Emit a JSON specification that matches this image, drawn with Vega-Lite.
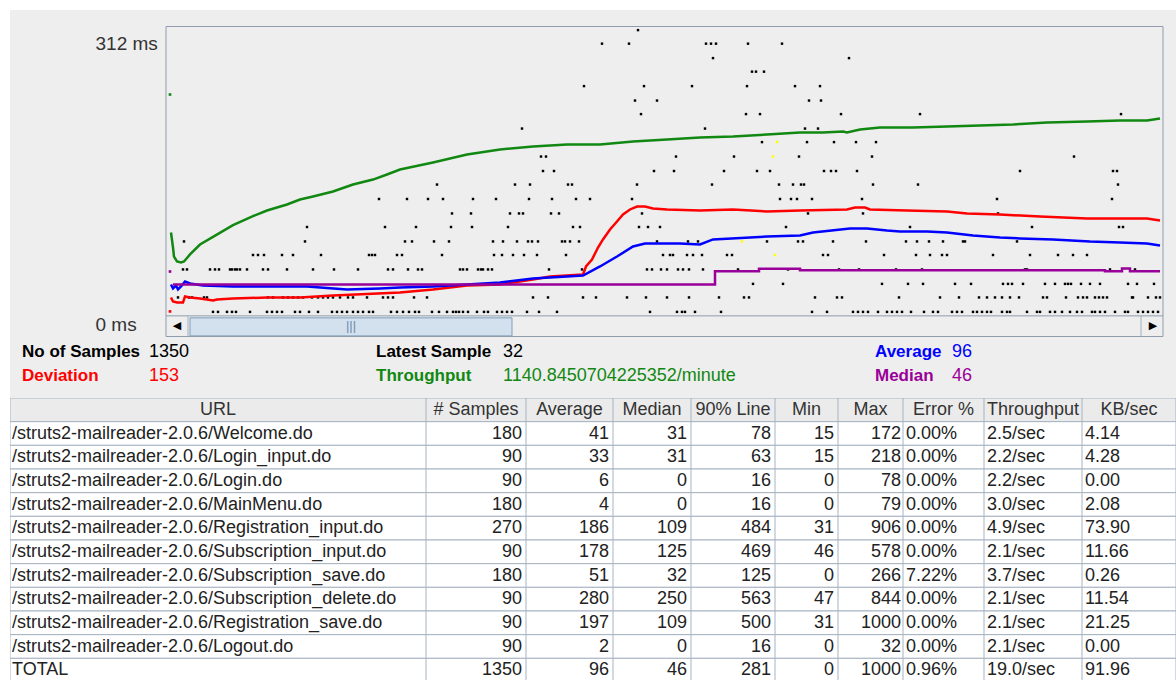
{
  "$schema": "https://vega.github.io/schema/vega-lite/v6.json",
  "background": "#FFFFFF",
  "padding": {"left": 10, "top": 10, "right": 0, "bottom": 0},
  "config": {"font": "Liberation Sans", "view": {"stroke": null}},
  "resolve": {"scale": {"color": "independent"}},
  "datasets": {
    "samples": [
      {"n":472,"ms":312},
      {"n":436,"ms":297},{"n":463,"ms":297},{"n":540,"ms":297},{"n":545,"ms":297},{"n":550,"ms":297},{"n":582,"ms":297},{"n":616,"ms":297},
      {"n":547,"ms":281},{"n":683,"ms":281},
      {"n":586,"ms":266},{"n":590,"ms":266},{"n":598,"ms":266},
      {"n":418,"ms":250},{"n":478,"ms":250},{"n":526,"ms":250},{"n":581,"ms":250},{"n":629,"ms":250},{"n":654,"ms":250},
      {"n":469,"ms":234},{"n":491,"ms":234},{"n":643,"ms":234},{"n":655,"ms":234},
      {"n":475,"ms":219},{"n":580,"ms":219},{"n":594,"ms":219},{"n":675,"ms":219},{"n":754,"ms":219},{"n":955,"ms":219},
      {"n":356,"ms":203},{"n":539,"ms":203},{"n":639,"ms":203},{"n":652,"ms":203},
      {"n":596,"ms":188},{"n":641,"ms":188},{"n":668,"ms":188},{"n":690,"ms":188},{"n":710,"ms":188},
      {"n":375,"ms":172},{"n":380,"ms":172},{"n":510,"ms":172},{"n":568,"ms":172},{"n":633,"ms":172},{"n":706,"ms":172},{"n":908,"ms":172},
      {"n":377,"ms":156},{"n":388,"ms":156},{"n":488,"ms":156},{"n":508,"ms":156},{"n":558,"ms":156},{"n":591,"ms":156},{"n":604,"ms":156},{"n":658,"ms":156},{"n":665,"ms":156},{"n":670,"ms":156},{"n":691,"ms":156},{"n":854,"ms":156},{"n":947,"ms":156},{"n":951,"ms":156},
      {"n":271,"ms":141},{"n":349,"ms":141},{"n":364,"ms":141},{"n":402,"ms":141},{"n":406,"ms":141},{"n":471,"ms":141},{"n":546,"ms":141},{"n":613,"ms":141},{"n":627,"ms":141},{"n":635,"ms":141},{"n":638,"ms":141},{"n":707,"ms":141},{"n":752,"ms":141},{"n":952,"ms":141},
      {"n":213,"ms":125},{"n":241,"ms":125},{"n":262,"ms":125},{"n":277,"ms":125},{"n":307,"ms":125},{"n":330,"ms":125},{"n":363,"ms":125},{"n":386,"ms":125},{"n":410,"ms":125},{"n":424,"ms":125},{"n":466,"ms":125},{"n":614,"ms":125},{"n":625,"ms":125},{"n":631,"ms":125},{"n":646,"ms":125},{"n":696,"ms":125},{"n":831,"ms":125},{"n":946,"ms":125},
      {"n":286,"ms":109},{"n":305,"ms":109},{"n":344,"ms":109},{"n":353,"ms":109},{"n":357,"ms":109},{"n":385,"ms":109},{"n":393,"ms":109},{"n":476,"ms":109},{"n":642,"ms":109},{"n":697,"ms":109},{"n":832,"ms":109},
      {"n":141,"ms":94},{"n":219,"ms":94},{"n":250,"ms":94},{"n":285,"ms":94},{"n":306,"ms":94},{"n":342,"ms":94},{"n":407,"ms":94},{"n":414,"ms":94},{"n":473,"ms":94},{"n":482,"ms":94},{"n":494,"ms":94},{"n":620,"ms":94},{"n":744,"ms":94},{"n":866,"ms":94},{"n":953,"ms":94},{"n":957,"ms":94},
      {"n":18,"ms":78},{"n":139,"ms":78},{"n":239,"ms":78},{"n":246,"ms":78},{"n":268,"ms":78},{"n":283,"ms":78},{"n":327,"ms":78},{"n":337,"ms":78},{"n":351,"ms":78},{"n":362,"ms":78},{"n":366,"ms":78},{"n":372,"ms":78},{"n":396,"ms":78},{"n":399,"ms":78},{"n":404,"ms":78},{"n":413,"ms":78},{"n":491,"ms":78},{"n":522,"ms":78},{"n":532,"ms":78},{"n":601,"ms":78},{"n":632,"ms":78},{"n":637,"ms":78},{"n":667,"ms":78},{"n":700,"ms":78},{"n":740,"ms":78},{"n":751,"ms":78},{"n":763,"ms":78},{"n":777,"ms":78},{"n":797,"ms":78},{"n":799,"ms":78},{"n":851,"ms":78},
      {"n":87,"ms":63},{"n":92,"ms":63},{"n":98,"ms":63},{"n":116,"ms":63},{"n":127,"ms":63},{"n":155,"ms":63},{"n":203,"ms":63},{"n":206,"ms":63},{"n":209,"ms":63},{"n":231,"ms":63},{"n":236,"ms":63},{"n":276,"ms":63},{"n":328,"ms":63},{"n":336,"ms":63},{"n":347,"ms":63},{"n":358,"ms":63},{"n":371,"ms":63},{"n":400,"ms":63},{"n":497,"ms":63},{"n":504,"ms":63},{"n":507,"ms":63},{"n":521,"ms":63},{"n":527,"ms":63},{"n":536,"ms":63},{"n":561,"ms":63},{"n":566,"ms":63},{"n":657,"ms":63},{"n":662,"ms":63},{"n":718,"ms":63},{"n":750,"ms":63},{"n":764,"ms":63},{"n":776,"ms":63},{"n":781,"ms":63},{"n":827,"ms":63},{"n":864,"ms":63},{"n":892,"ms":63},{"n":907,"ms":63},{"n":921,"ms":63},
      {"n":17,"ms":47},{"n":21,"ms":47},{"n":44,"ms":47},{"n":49,"ms":47},{"n":53,"ms":47},{"n":64,"ms":47},{"n":66,"ms":47},{"n":69,"ms":47},{"n":71,"ms":47},{"n":74,"ms":47},{"n":81,"ms":47},{"n":97,"ms":47},{"n":102,"ms":47},{"n":121,"ms":47},{"n":147,"ms":47},{"n":168,"ms":47},{"n":192,"ms":47},{"n":222,"ms":47},{"n":227,"ms":47},{"n":242,"ms":47},{"n":252,"ms":47},{"n":256,"ms":47},{"n":294,"ms":47},{"n":297,"ms":47},{"n":301,"ms":47},{"n":312,"ms":47},{"n":315,"ms":47},{"n":317,"ms":47},{"n":322,"ms":47},{"n":326,"ms":47},{"n":383,"ms":47},{"n":416,"ms":47},{"n":481,"ms":47},{"n":486,"ms":47},{"n":495,"ms":47},{"n":501,"ms":47},{"n":512,"ms":47},{"n":517,"ms":47},{"n":523,"ms":47},{"n":537,"ms":47},{"n":572,"ms":47},{"n":622,"ms":47},{"n":673,"ms":47},{"n":693,"ms":47},{"n":730,"ms":47},{"n":756,"ms":47},{"n":859,"ms":47},{"n":861,"ms":47},{"n":944,"ms":47},{"n":969,"ms":47},
      {"n":587,"ms":31},{"n":617,"ms":31},{"n":716,"ms":31},{"n":742,"ms":31},{"n":757,"ms":31},{"n":789,"ms":31},{"n":805,"ms":31},{"n":837,"ms":31},{"n":842,"ms":31},{"n":846,"ms":31},{"n":857,"ms":31},{"n":879,"ms":31},{"n":889,"ms":31},{"n":899,"ms":31},{"n":902,"ms":31},{"n":905,"ms":31},{"n":915,"ms":31},{"n":924,"ms":31},{"n":934,"ms":31},{"n":962,"ms":31},{"n":971,"ms":31},{"n":988,"ms":31},
      {"n":12,"ms":16},{"n":23,"ms":16},{"n":26,"ms":16},{"n":38,"ms":16},{"n":41,"ms":16},{"n":102,"ms":16},{"n":107,"ms":16},{"n":117,"ms":16},{"n":122,"ms":16},{"n":127,"ms":16},{"n":132,"ms":16},{"n":137,"ms":16},{"n":146,"ms":16},{"n":152,"ms":16},{"n":157,"ms":16},{"n":162,"ms":16},{"n":167,"ms":16},{"n":174,"ms":16},{"n":182,"ms":16},{"n":187,"ms":16},{"n":201,"ms":16},{"n":217,"ms":16},{"n":222,"ms":16},{"n":227,"ms":16},{"n":248,"ms":16},{"n":261,"ms":16},{"n":367,"ms":16},{"n":382,"ms":16},{"n":417,"ms":16},{"n":430,"ms":16},{"n":461,"ms":16},{"n":480,"ms":16},{"n":501,"ms":16},{"n":523,"ms":16},{"n":553,"ms":16},{"n":578,"ms":16},{"n":583,"ms":16},{"n":649,"ms":16},{"n":671,"ms":16},{"n":676,"ms":16},{"n":733,"ms":16},{"n":774,"ms":16},{"n":793,"ms":16},{"n":813,"ms":16},{"n":821,"ms":16},{"n":829,"ms":16},{"n":836,"ms":16},{"n":844,"ms":16},{"n":853,"ms":16},{"n":877,"ms":16},{"n":881,"ms":16},{"n":900,"ms":16},{"n":912,"ms":16},{"n":917,"ms":16},{"n":921,"ms":16},{"n":929,"ms":16},{"n":933,"ms":16},{"n":937,"ms":16},{"n":941,"ms":16},{"n":966,"ms":16},{"n":967,"ms":16},{"n":982,"ms":16},{"n":990,"ms":16},{"n":994,"ms":16},
      {"n":47,"ms":0},{"n":52,"ms":0},{"n":61,"ms":0},{"n":66,"ms":0},{"n":70,"ms":0},{"n":84,"ms":0},{"n":101,"ms":0},{"n":106,"ms":0},{"n":111,"ms":0},{"n":116,"ms":0},{"n":129,"ms":0},{"n":134,"ms":0},{"n":143,"ms":0},{"n":152,"ms":0},{"n":166,"ms":0},{"n":171,"ms":0},{"n":176,"ms":0},{"n":181,"ms":0},{"n":187,"ms":0},{"n":192,"ms":0},{"n":197,"ms":0},{"n":203,"ms":0},{"n":207,"ms":0},{"n":225,"ms":0},{"n":231,"ms":0},{"n":237,"ms":0},{"n":243,"ms":0},{"n":249,"ms":0},{"n":253,"ms":0},{"n":266,"ms":0},{"n":273,"ms":0},{"n":281,"ms":0},{"n":287,"ms":0},{"n":290,"ms":0},{"n":293,"ms":0},{"n":297,"ms":0},{"n":302,"ms":0},{"n":311,"ms":0},{"n":318,"ms":0},{"n":322,"ms":0},{"n":331,"ms":0},{"n":336,"ms":0},{"n":341,"ms":0},{"n":346,"ms":0},{"n":361,"ms":0},{"n":373,"ms":0},{"n":391,"ms":0},{"n":484,"ms":0},{"n":511,"ms":0},{"n":516,"ms":0},{"n":519,"ms":0},{"n":529,"ms":0},{"n":555,"ms":0},{"n":646,"ms":0},{"n":661,"ms":0},{"n":687,"ms":0},{"n":692,"ms":0},{"n":697,"ms":0},{"n":702,"ms":0},{"n":712,"ms":0},{"n":721,"ms":0},{"n":726,"ms":0},{"n":731,"ms":0},{"n":736,"ms":0},{"n":745,"ms":0},{"n":758,"ms":0},{"n":767,"ms":0},{"n":772,"ms":0},{"n":786,"ms":0},{"n":791,"ms":0},{"n":796,"ms":0},{"n":807,"ms":0},{"n":811,"ms":0},{"n":816,"ms":0},{"n":821,"ms":0},{"n":825,"ms":0},{"n":836,"ms":0},{"n":841,"ms":0},{"n":844,"ms":0},{"n":861,"ms":0},{"n":871,"ms":0},{"n":874,"ms":0},{"n":884,"ms":0},{"n":889,"ms":0},{"n":896,"ms":0},{"n":904,"ms":0},{"n":911,"ms":0},{"n":916,"ms":0},{"n":926,"ms":0},{"n":929,"ms":0},{"n":934,"ms":0},{"n":939,"ms":0},{"n":949,"ms":0},{"n":959,"ms":0},{"n":962,"ms":0},{"n":972,"ms":0},{"n":977,"ms":0},{"n":982,"ms":0},{"n":987,"ms":0},{"n":992,"ms":0}
    ],
    "trend": [
      {"s":"Throughput","n":5,"ms":87.9},{"s":"Throughput","n":7,"ms":71.3},{"s":"Throughput","n":8,"ms":61.3},{"s":"Throughput","n":11,"ms":55.8},{"s":"Throughput","n":15,"ms":54.7},{"s":"Throughput","n":18,"ms":55.8},{"s":"Throughput","n":24,"ms":63.6},{"s":"Throughput","n":34,"ms":74.6},{"s":"Throughput","n":47,"ms":83.0},{"s":"Throughput","n":67,"ms":96.0},{"s":"Throughput","n":87,"ms":106.0},{"s":"Throughput","n":101,"ms":112.3},{"s":"Throughput","n":121,"ms":118.9},{"s":"Throughput","n":134,"ms":124.4},{"s":"Throughput","n":147,"ms":127.8},{"s":"Throughput","n":167,"ms":133.3},{"s":"Throughput","n":187,"ms":141.0},{"s":"Throughput","n":207,"ms":146.5},{"s":"Throughput","n":221,"ms":152.1},{"s":"Throughput","n":234,"ms":157.6},{"s":"Throughput","n":267,"ms":165.4},{"s":"Throughput","n":301,"ms":174.3},{"s":"Throughput","n":334,"ms":179.8},{"s":"Throughput","n":367,"ms":183.1},{"s":"Throughput","n":401,"ms":185.4},{"s":"Throughput","n":434,"ms":185.4},{"s":"Throughput","n":467,"ms":188.7},{"s":"Throughput","n":501,"ms":190.9},{"s":"Throughput","n":534,"ms":193.1},{"s":"Throughput","n":567,"ms":194.2},{"s":"Throughput","n":601,"ms":196.4},{"s":"Throughput","n":634,"ms":198.6},{"s":"Throughput","n":657,"ms":198.6},{"s":"Throughput","n":677,"ms":199.7},{"s":"Throughput","n":681,"ms":198.6},{"s":"Throughput","n":694,"ms":201.9},{"s":"Throughput","n":714,"ms":204.1},{"s":"Throughput","n":747,"ms":204.1},{"s":"Throughput","n":781,"ms":205.3},{"s":"Throughput","n":814,"ms":206.4},{"s":"Throughput","n":847,"ms":207.5},{"s":"Throughput","n":881,"ms":209.7},{"s":"Throughput","n":921,"ms":210.8},{"s":"Throughput","n":954,"ms":211.9},{"s":"Throughput","n":981,"ms":211.9},{"s":"Throughput","n":994,"ms":214.1},
      {"s":"Deviation","n":5,"ms":15.9},{"s":"Deviation","n":7,"ms":11.5},{"s":"Deviation","n":11,"ms":10.4},{"s":"Deviation","n":17,"ms":10.4},{"s":"Deviation","n":19,"ms":17.1},{"s":"Deviation","n":24,"ms":15.9},{"s":"Deviation","n":34,"ms":14.8},{"s":"Deviation","n":47,"ms":12.6},{"s":"Deviation","n":51,"ms":13.7},{"s":"Deviation","n":67,"ms":14.8},{"s":"Deviation","n":101,"ms":15.9},{"s":"Deviation","n":134,"ms":15.9},{"s":"Deviation","n":167,"ms":18.2},{"s":"Deviation","n":212,"ms":20.4},{"s":"Deviation","n":234,"ms":21.5},{"s":"Deviation","n":267,"ms":24.8},{"s":"Deviation","n":301,"ms":29.2},{"s":"Deviation","n":334,"ms":30.4},{"s":"Deviation","n":347,"ms":32.6},{"s":"Deviation","n":367,"ms":35.9},{"s":"Deviation","n":384,"ms":39.2},{"s":"Deviation","n":417,"ms":41.4},{"s":"Deviation","n":420,"ms":50.3},{"s":"Deviation","n":426,"ms":58.0},{"s":"Deviation","n":432,"ms":71.3},{"s":"Deviation","n":437,"ms":80.2},{"s":"Deviation","n":444,"ms":91.3},{"s":"Deviation","n":451,"ms":100.1},{"s":"Deviation","n":457,"ms":107.8},{"s":"Deviation","n":464,"ms":113.4},{"s":"Deviation","n":471,"ms":116.7},{"s":"Deviation","n":479,"ms":116.7},{"s":"Deviation","n":487,"ms":114.5},{"s":"Deviation","n":501,"ms":113.4},{"s":"Deviation","n":534,"ms":112.3},{"s":"Deviation","n":567,"ms":113.4},{"s":"Deviation","n":601,"ms":111.2},{"s":"Deviation","n":634,"ms":112.3},{"s":"Deviation","n":681,"ms":113.4},{"s":"Deviation","n":689,"ms":115.6},{"s":"Deviation","n":699,"ms":115.6},{"s":"Deviation","n":704,"ms":113.4},{"s":"Deviation","n":741,"ms":112.3},{"s":"Deviation","n":781,"ms":111.2},{"s":"Deviation","n":801,"ms":109.0},{"s":"Deviation","n":834,"ms":107.8},{"s":"Deviation","n":874,"ms":105.6},{"s":"Deviation","n":921,"ms":103.4},{"s":"Deviation","n":981,"ms":103.4},{"s":"Deviation","n":994,"ms":101.2},
      {"s":"Average","n":5,"ms":30.3},{"s":"Average","n":7,"ms":25.9},{"s":"Average","n":10,"ms":29.2},{"s":"Average","n":12,"ms":24.8},{"s":"Average","n":15,"ms":28.1},{"s":"Average","n":19,"ms":33.7},{"s":"Average","n":24,"ms":31.4},{"s":"Average","n":37,"ms":29.2},{"s":"Average","n":67,"ms":28.1},{"s":"Average","n":107,"ms":28.1},{"s":"Average","n":141,"ms":28.1},{"s":"Average","n":181,"ms":24.8},{"s":"Average","n":214,"ms":25.9},{"s":"Average","n":234,"ms":27.0},{"s":"Average","n":267,"ms":28.1},{"s":"Average","n":301,"ms":30.3},{"s":"Average","n":334,"ms":32.6},{"s":"Average","n":367,"ms":37.0},{"s":"Average","n":401,"ms":39.2},{"s":"Average","n":417,"ms":40.3},{"s":"Average","n":434,"ms":50.3},{"s":"Average","n":451,"ms":61.3},{"s":"Average","n":467,"ms":72.4},{"s":"Average","n":479,"ms":75.7},{"s":"Average","n":514,"ms":75.7},{"s":"Average","n":534,"ms":74.6},{"s":"Average","n":547,"ms":80.2},{"s":"Average","n":601,"ms":83.5},{"s":"Average","n":634,"ms":84.6},{"s":"Average","n":647,"ms":87.9},{"s":"Average","n":684,"ms":92.3},{"s":"Average","n":701,"ms":92.3},{"s":"Average","n":721,"ms":90.1},{"s":"Average","n":734,"ms":89.0},{"s":"Average","n":761,"ms":89.0},{"s":"Average","n":781,"ms":87.9},{"s":"Average","n":807,"ms":84.6},{"s":"Average","n":834,"ms":82.4},{"s":"Average","n":854,"ms":81.3},{"s":"Average","n":887,"ms":80.2},{"s":"Average","n":924,"ms":77.9},{"s":"Average","n":954,"ms":76.8},{"s":"Average","n":981,"ms":75.7},{"s":"Average","n":994,"ms":73.5},
      {"s":"Median","n":7,"ms":30.3},{"s":"Median","n":549,"ms":45.1},{"s":"Median","n":593,"ms":47.7},{"s":"Median","n":634,"ms":46.2},{"s":"Median","n":939,"ms":45.1},{"s":"Median","n":956,"ms":48.0},{"s":"Median","n":964,"ms":45.1},{"s":"Median","n":994,"ms":45.1}
    ],
    "firsts": [
      {"s":"Throughput","n":4,"ms":240.7},{"s":"Median","n":4,"ms":44.7},{"s":"Deviation","n":4,"ms":0.5}
    ],
    "latest": [
      {"n":611,"ms":188},{"n":607,"ms":172},{"n":576,"ms":78},{"n":609,"ms":63}
    ],
    "summary": [
      {"grp":1,"line":"1","label":"No of Samples","value":"1350"},
      {"grp":1,"line":"2","label":"Deviation","value":"153"},
      {"grp":2,"line":"1","label":"Latest Sample","value":"32"},
      {"grp":2,"line":"2","label":"Throughput","value":"1140.8450704225352/minute"},
      {"grp":3,"line":"1","label":"Average","value":"96"},
      {"grp":3,"line":"2","label":"Median","value":"46"}
    ],
    "table": [
      {"row":0,"url":"URL","samples":"# Samples","average":"Average","median":"Median","p90":"90% Line","min":"Min","max":"Max","err":"Error %","tput":"Throughput","kb":"KB/sec"},
      {"row":1,"url":"/struts2-mailreader-2.0.6/Welcome.do","samples":"180","average":"41","median":"31","p90":"78","min":"15","max":"172","err":"0.00%","tput":"2.5/sec","kb":"4.14"},
      {"row":2,"url":"/struts2-mailreader-2.0.6/Login_input.do","samples":"90","average":"33","median":"31","p90":"63","min":"15","max":"218","err":"0.00%","tput":"2.2/sec","kb":"4.28"},
      {"row":3,"url":"/struts2-mailreader-2.0.6/Login.do","samples":"90","average":"6","median":"0","p90":"16","min":"0","max":"78","err":"0.00%","tput":"2.2/sec","kb":"0.00"},
      {"row":4,"url":"/struts2-mailreader-2.0.6/MainMenu.do","samples":"180","average":"4","median":"0","p90":"16","min":"0","max":"79","err":"0.00%","tput":"3.0/sec","kb":"2.08"},
      {"row":5,"url":"/struts2-mailreader-2.0.6/Registration_input.do","samples":"270","average":"186","median":"109","p90":"484","min":"31","max":"906","err":"0.00%","tput":"4.9/sec","kb":"73.90"},
      {"row":6,"url":"/struts2-mailreader-2.0.6/Subscription_input.do","samples":"90","average":"178","median":"125","p90":"469","min":"46","max":"578","err":"0.00%","tput":"2.1/sec","kb":"11.66"},
      {"row":7,"url":"/struts2-mailreader-2.0.6/Subscription_save.do","samples":"180","average":"51","median":"32","p90":"125","min":"0","max":"266","err":"7.22%","tput":"3.7/sec","kb":"0.26"},
      {"row":8,"url":"/struts2-mailreader-2.0.6/Subscription_delete.do","samples":"90","average":"280","median":"250","p90":"563","min":"47","max":"844","err":"0.00%","tput":"2.1/sec","kb":"11.54"},
      {"row":9,"url":"/struts2-mailreader-2.0.6/Registration_save.do","samples":"90","average":"197","median":"109","p90":"500","min":"31","max":"1000","err":"0.00%","tput":"2.1/sec","kb":"21.25"},
      {"row":10,"url":"/struts2-mailreader-2.0.6/Logout.do","samples":"90","average":"2","median":"0","p90":"16","min":"0","max":"32","err":"0.00%","tput":"2.1/sec","kb":"0.00"},
      {"row":11,"url":"TOTAL","samples":"1350","average":"96","median":"46","p90":"281","min":"0","max":"1000","err":"0.96%","tput":"19.0/sec","kb":"91.96"}
    ]
  },
  "columns": 1,
  "spacing": 0,
  "bounds": "full",
  "concat": [
    {
      "width": 1166,
      "height": 327,
      "view": {"fill": "#EEEEEE", "stroke": null},
      "layer": [
        {
          "data": {"name": "samples"},
          "mark": {"type": "point", "shape": "square", "filled": true, "size": 6, "color": "#000000", "opacity": 1},
          "encoding": {
            "x": {"field": "n", "type": "quantitative", "scale": {"domain": [0, 997], "range": [156, 1153], "nice": false, "zero": false}, "axis": null},
            "y": {"field": "ms", "type": "quantitative", "title": null, "scale": {"domain": [-4, 316], "range": [305.5, 16.5], "nice": false, "zero": false},
                  "axis": {"values": [0, 312], "labelExpr": "datum.label + ' ms'", "title": null, "domain": false, "ticks": false, "grid": false, "offset": -156, "labelAlign": "left", "labelPadding": 71, "labelOffset": 13, "labelFontSize": 19, "labelColor": "#333333", "labelFlush": false, "labelOverlap": false, "labelBound": false, "minExtent": 0, "maxExtent": 0}}
          }
        },
        {
          "data": {"name": "trend"},
          "transform": [{"filter": "datum.s !== 'Median'"}],
          "mark": {"type": "line", "strokeWidth": 2.5},
          "encoding": {
            "x": {"field": "n", "type": "quantitative", "axis": null},
            "y": {"field": "ms", "type": "quantitative", "title": null},
            "color": {"field": "s", "type": "nominal", "scale": {"domain": ["Throughput", "Deviation", "Average", "Median"], "range": ["#118811", "#FF0000", "#0000FF", "#990099"]}, "legend": null}
          }
        },
        {
          "data": {"name": "trend"},
          "transform": [{"filter": "datum.s === 'Median'"}],
          "mark": {"type": "line", "strokeWidth": 2.5, "interpolate": "step-after"},
          "encoding": {
            "x": {"field": "n", "type": "quantitative", "axis": null},
            "y": {"field": "ms", "type": "quantitative", "title": null},
            "color": {"field": "s", "type": "nominal", "scale": {"domain": ["Throughput", "Deviation", "Average", "Median"], "range": ["#118811", "#FF0000", "#0000FF", "#990099"]}, "legend": null}
          }
        },
        {
          "data": {"name": "firsts"},
          "mark": {"type": "point", "shape": "square", "filled": true, "size": 7, "opacity": 1},
          "encoding": {
            "x": {"field": "n", "type": "quantitative", "axis": null},
            "y": {"field": "ms", "type": "quantitative", "title": null},
            "color": {"field": "s", "type": "nominal", "scale": {"domain": ["Throughput", "Deviation", "Average", "Median"], "range": ["#118811", "#FF0000", "#0000FF", "#990099"]}, "legend": null}
          }
        },
        {
          "data": {"name": "latest"},
          "mark": {"type": "point", "shape": "square", "filled": true, "size": 6, "opacity": 1, "color": "#FFFF00"},
          "encoding": {
            "x": {"field": "n", "type": "quantitative", "axis": null},
            "y": {"field": "ms", "type": "quantitative", "title": null}
          }
        },
        {
          "data": {"values": [{}]},
          "mark": {"type": "rule", "color": "#8E9CAD", "strokeWidth": 1},
          "encoding": {"x": {"datum": 0}, "x2": {"datum": 997}, "y": {"datum": -4.4}}
        },
        {
          "data": {"values": [{}]},
          "mark": {"type": "rect", "fill": "#D3E1EF", "stroke": "#7F9DB9", "strokeWidth": 1},
          "encoding": {"x": {"datum": 24}, "x2": {"datum": 346}, "y": {"datum": -6.6}, "y2": {"datum": -26.6}}
        },
        {
          "data": {"values": [{}]},
          "mark": {"type": "rule", "color": "#A3B0BF", "strokeWidth": 1},
          "encoding": {"x": {"datum": 22}, "y": {"datum": -4.4}, "y2": {"datum": -27.25}}
        },
        {
          "data": {"values": [{}]},
          "mark": {"type": "rule", "color": "#A3B0BF", "strokeWidth": 1},
          "encoding": {"x": {"datum": 975}, "y": {"datum": -4.4}, "y2": {"datum": -27.25}}
        },
        {
          "data": {"values": [{}]},
          "mark": {"type": "text", "text": "\u25C0", "font": "DejaVu Sans", "fontSize": 11, "color": "#000000", "baseline": "middle", "align": "center"},
          "encoding": {"x": {"datum": 11}, "y": {"datum": -16}}
        },
        {
          "data": {"values": [{}]},
          "mark": {"type": "text", "text": "\u25B6", "font": "DejaVu Sans", "fontSize": 11, "color": "#000000", "baseline": "middle", "align": "center"},
          "encoding": {"x": {"datum": 987}, "y": {"datum": -16}}
        },
        {
          "data": {"values": [{}]},
          "mark": {"type": "text", "text": "|||", "fontSize": 13, "color": "#6F8CAB", "baseline": "middle", "align": "center"},
          "encoding": {"x": {"datum": 185}, "y": {"datum": -16}}
        },
        {
          "data": {"values": [{}]},
          "mark": {"type": "rect", "fill": "#FFFFFF", "fillOpacity": 0, "stroke": "#8E9CAD", "strokeWidth": 1},
          "encoding": {"x": {"datum": 0}, "x2": {"datum": 997}, "y": {"datum": 316}, "y2": {"datum": -27.25}}
        }
      ]
    },
    {
      "width": 1166,
      "height": 61,
      "view": {"fill": "#EEEEEE", "stroke": null},
      "data": {"name": "summary"},
      "resolve": {"scale": {"x": "independent"}},
      "layer": [
        {
          "mark": {"type": "text", "align": "left", "baseline": "middle", "fontSize": 17, "fontWeight": "bold"},
          "encoding": {
            "x": {"field": "grp", "type": "quantitative", "scale": {"domain": [1, 2, 3], "range": [12, 366, 865], "nice": false, "zero": false}, "axis": null},
            "y": {"field": "line", "type": "ordinal", "scale": {"type": "band", "paddingInner": 0, "paddingOuter": 0.27, "align": 0.23}, "axis": null},
            "text": {"field": "label"},
            "color": {"field": "label", "type": "nominal", "scale": {"domain": ["No of Samples", "Deviation", "Latest Sample", "Throughput", "Average", "Median"], "range": ["#000000", "#FF0000", "#000000", "#118811", "#0000FF", "#990099"]}, "legend": null}
          }
        },
        {
          "mark": {"type": "text", "align": "left", "baseline": "middle", "fontSize": 18},
          "encoding": {
            "x": {"field": "grp", "type": "quantitative", "scale": {"domain": [1, 2, 3], "range": [139, 493, 942], "nice": false, "zero": false}, "axis": null},
            "y": {"field": "line", "type": "ordinal", "scale": {"type": "band", "paddingInner": 0, "paddingOuter": 0.27, "align": 0.23}, "axis": null},
            "text": {"field": "value"},
            "color": {"field": "label", "type": "nominal", "scale": {"domain": ["No of Samples", "Deviation", "Latest Sample", "Throughput", "Average", "Median"], "range": ["#000000", "#FF0000", "#000000", "#118811", "#0000FF", "#990099"]}, "legend": null}
          }
        }
      ]
    },
    {
      "hconcat": [
        {"width": 416, "height": 282, "data": {"name": "table"},
         "encoding": {"y": {"field": "row", "type": "ordinal", "scale": {"domain": [0,1,2,3,4,5,6,7,8,9,10,11], "range": [0, 284], "paddingInner": 0, "paddingOuter": 0}, "axis": null}},
         "layer": [
          {"mark": {"type": "rect", "stroke": "#A7B3C1", "strokeWidth": 1, "clip": true}, "encoding": {"fill": {"condition": {"test": "datum.row === 0", "value": "#EBEBEB"}, "value": "#FFFFFF"}}},
          {"transform": [{"filter": "datum.row === 0"}], "mark": {"type": "text", "align": "center", "baseline": "middle", "fontSize": 18, "color": "#333333", "x": "width", "dx": -208, "clip": true}, "encoding": {"text": {"field": "url"}}},
          {"transform": [{"filter": "datum.row > 0"}], "mark": {"type": "text", "align": "left", "baseline": "middle", "fontSize": 18, "color": "#222222", "x": 0, "dx": 2, "clip": true}, "encoding": {"text": {"field": "url"}}}
         ]},
        {"width": 100, "height": 282, "data": {"name": "table"},
         "encoding": {"y": {"field": "row", "type": "ordinal", "scale": {"domain": [0,1,2,3,4,5,6,7,8,9,10,11], "range": [0, 284], "paddingInner": 0, "paddingOuter": 0}, "axis": null}},
         "layer": [
          {"mark": {"type": "rect", "stroke": "#A7B3C1", "strokeWidth": 1, "clip": true}, "encoding": {"fill": {"condition": {"test": "datum.row === 0", "value": "#EBEBEB"}, "value": "#FFFFFF"}}},
          {"transform": [{"filter": "datum.row === 0"}], "mark": {"type": "text", "align": "center", "baseline": "middle", "fontSize": 18, "color": "#333333", "x": "width", "dx": -50, "clip": true}, "encoding": {"text": {"field": "samples"}}},
          {"transform": [{"filter": "datum.row > 0"}], "mark": {"type": "text", "align": "right", "baseline": "middle", "fontSize": 18, "color": "#222222", "x": "width", "dx": -4, "clip": true}, "encoding": {"text": {"field": "samples"}}}
         ]},
        {"width": 87, "height": 282, "data": {"name": "table"},
         "encoding": {"y": {"field": "row", "type": "ordinal", "scale": {"domain": [0,1,2,3,4,5,6,7,8,9,10,11], "range": [0, 284], "paddingInner": 0, "paddingOuter": 0}, "axis": null}},
         "layer": [
          {"mark": {"type": "rect", "stroke": "#A7B3C1", "strokeWidth": 1, "clip": true}, "encoding": {"fill": {"condition": {"test": "datum.row === 0", "value": "#EBEBEB"}, "value": "#FFFFFF"}}},
          {"transform": [{"filter": "datum.row === 0"}], "mark": {"type": "text", "align": "center", "baseline": "middle", "fontSize": 18, "color": "#333333", "x": "width", "dx": -43.5, "clip": true}, "encoding": {"text": {"field": "average"}}},
          {"transform": [{"filter": "datum.row > 0"}], "mark": {"type": "text", "align": "right", "baseline": "middle", "fontSize": 18, "color": "#222222", "x": "width", "dx": -4, "clip": true}, "encoding": {"text": {"field": "average"}}}
         ]},
        {"width": 78, "height": 282, "data": {"name": "table"},
         "encoding": {"y": {"field": "row", "type": "ordinal", "scale": {"domain": [0,1,2,3,4,5,6,7,8,9,10,11], "range": [0, 284], "paddingInner": 0, "paddingOuter": 0}, "axis": null}},
         "layer": [
          {"mark": {"type": "rect", "stroke": "#A7B3C1", "strokeWidth": 1, "clip": true}, "encoding": {"fill": {"condition": {"test": "datum.row === 0", "value": "#EBEBEB"}, "value": "#FFFFFF"}}},
          {"transform": [{"filter": "datum.row === 0"}], "mark": {"type": "text", "align": "center", "baseline": "middle", "fontSize": 18, "color": "#333333", "x": "width", "dx": -39, "clip": true}, "encoding": {"text": {"field": "median"}}},
          {"transform": [{"filter": "datum.row > 0"}], "mark": {"type": "text", "align": "right", "baseline": "middle", "fontSize": 18, "color": "#222222", "x": "width", "dx": -4, "clip": true}, "encoding": {"text": {"field": "median"}}}
         ]},
        {"width": 84, "height": 282, "data": {"name": "table"},
         "encoding": {"y": {"field": "row", "type": "ordinal", "scale": {"domain": [0,1,2,3,4,5,6,7,8,9,10,11], "range": [0, 284], "paddingInner": 0, "paddingOuter": 0}, "axis": null}},
         "layer": [
          {"mark": {"type": "rect", "stroke": "#A7B3C1", "strokeWidth": 1, "clip": true}, "encoding": {"fill": {"condition": {"test": "datum.row === 0", "value": "#EBEBEB"}, "value": "#FFFFFF"}}},
          {"transform": [{"filter": "datum.row === 0"}], "mark": {"type": "text", "align": "center", "baseline": "middle", "fontSize": 18, "color": "#333333", "x": "width", "dx": -42, "clip": true}, "encoding": {"text": {"field": "p90"}}},
          {"transform": [{"filter": "datum.row > 0"}], "mark": {"type": "text", "align": "right", "baseline": "middle", "fontSize": 18, "color": "#222222", "x": "width", "dx": -4, "clip": true}, "encoding": {"text": {"field": "p90"}}}
         ]},
        {"width": 63, "height": 282, "data": {"name": "table"},
         "encoding": {"y": {"field": "row", "type": "ordinal", "scale": {"domain": [0,1,2,3,4,5,6,7,8,9,10,11], "range": [0, 284], "paddingInner": 0, "paddingOuter": 0}, "axis": null}},
         "layer": [
          {"mark": {"type": "rect", "stroke": "#A7B3C1", "strokeWidth": 1, "clip": true}, "encoding": {"fill": {"condition": {"test": "datum.row === 0", "value": "#EBEBEB"}, "value": "#FFFFFF"}}},
          {"transform": [{"filter": "datum.row === 0"}], "mark": {"type": "text", "align": "center", "baseline": "middle", "fontSize": 18, "color": "#333333", "x": "width", "dx": -31.5, "clip": true}, "encoding": {"text": {"field": "min"}}},
          {"transform": [{"filter": "datum.row > 0"}], "mark": {"type": "text", "align": "right", "baseline": "middle", "fontSize": 18, "color": "#222222", "x": "width", "dx": -4, "clip": true}, "encoding": {"text": {"field": "min"}}}
         ]},
        {"width": 65, "height": 282, "data": {"name": "table"},
         "encoding": {"y": {"field": "row", "type": "ordinal", "scale": {"domain": [0,1,2,3,4,5,6,7,8,9,10,11], "range": [0, 284], "paddingInner": 0, "paddingOuter": 0}, "axis": null}},
         "layer": [
          {"mark": {"type": "rect", "stroke": "#A7B3C1", "strokeWidth": 1, "clip": true}, "encoding": {"fill": {"condition": {"test": "datum.row === 0", "value": "#EBEBEB"}, "value": "#FFFFFF"}}},
          {"transform": [{"filter": "datum.row === 0"}], "mark": {"type": "text", "align": "center", "baseline": "middle", "fontSize": 18, "color": "#333333", "x": "width", "dx": -32.5, "clip": true}, "encoding": {"text": {"field": "max"}}},
          {"transform": [{"filter": "datum.row > 0"}], "mark": {"type": "text", "align": "right", "baseline": "middle", "fontSize": 18, "color": "#222222", "x": "width", "dx": -2, "clip": true}, "encoding": {"text": {"field": "max"}}}
         ]},
        {"width": 81, "height": 282, "data": {"name": "table"},
         "encoding": {"y": {"field": "row", "type": "ordinal", "scale": {"domain": [0,1,2,3,4,5,6,7,8,9,10,11], "range": [0, 284], "paddingInner": 0, "paddingOuter": 0}, "axis": null}},
         "layer": [
          {"mark": {"type": "rect", "stroke": "#A7B3C1", "strokeWidth": 1, "clip": true}, "encoding": {"fill": {"condition": {"test": "datum.row === 0", "value": "#EBEBEB"}, "value": "#FFFFFF"}}},
          {"transform": [{"filter": "datum.row === 0"}], "mark": {"type": "text", "align": "center", "baseline": "middle", "fontSize": 18, "color": "#333333", "x": "width", "dx": -40.5, "clip": true}, "encoding": {"text": {"field": "err"}}},
          {"transform": [{"filter": "datum.row > 0"}], "mark": {"type": "text", "align": "left", "baseline": "middle", "fontSize": 18, "color": "#222222", "x": 0, "dx": 3, "clip": true}, "encoding": {"text": {"field": "err"}}}
         ]},
        {"width": 98, "height": 282, "data": {"name": "table"},
         "encoding": {"y": {"field": "row", "type": "ordinal", "scale": {"domain": [0,1,2,3,4,5,6,7,8,9,10,11], "range": [0, 284], "paddingInner": 0, "paddingOuter": 0}, "axis": null}},
         "layer": [
          {"mark": {"type": "rect", "stroke": "#A7B3C1", "strokeWidth": 1, "clip": true}, "encoding": {"fill": {"condition": {"test": "datum.row === 0", "value": "#EBEBEB"}, "value": "#FFFFFF"}}},
          {"transform": [{"filter": "datum.row === 0"}], "mark": {"type": "text", "align": "center", "baseline": "middle", "fontSize": 18, "color": "#333333", "x": "width", "dx": -49, "clip": true}, "encoding": {"text": {"field": "tput"}}},
          {"transform": [{"filter": "datum.row > 0"}], "mark": {"type": "text", "align": "left", "baseline": "middle", "fontSize": 18, "color": "#222222", "x": 0, "dx": 3, "clip": true}, "encoding": {"text": {"field": "tput"}}}
         ]},
        {"width": 94, "height": 282, "data": {"name": "table"},
         "encoding": {"y": {"field": "row", "type": "ordinal", "scale": {"domain": [0,1,2,3,4,5,6,7,8,9,10,11], "range": [0, 284], "paddingInner": 0, "paddingOuter": 0}, "axis": null}},
         "layer": [
          {"mark": {"type": "rect", "stroke": "#A7B3C1", "strokeWidth": 1, "clip": true}, "encoding": {"fill": {"condition": {"test": "datum.row === 0", "value": "#EBEBEB"}, "value": "#FFFFFF"}}},
          {"transform": [{"filter": "datum.row === 0"}], "mark": {"type": "text", "align": "center", "baseline": "middle", "fontSize": 18, "color": "#333333", "x": "width", "dx": -47, "clip": true}, "encoding": {"text": {"field": "kb"}}},
          {"transform": [{"filter": "datum.row > 0"}], "mark": {"type": "text", "align": "left", "baseline": "middle", "fontSize": 18, "color": "#222222", "x": 0, "dx": 3, "clip": true}, "encoding": {"text": {"field": "kb"}}}
         ]}
      ],
      "spacing": 0,
      "bounds": "flush"
    }
  ]
}
